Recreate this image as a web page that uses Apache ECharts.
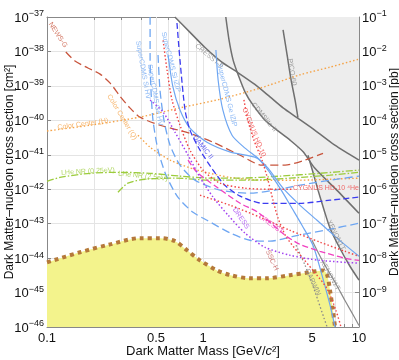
<!DOCTYPE html>
<html><head><meta charset="utf-8">
<script src="https://cdn.jsdelivr.net/npm/echarts@6/dist/echarts.min.js"></script>
<style>html,body{margin:0;padding:0;background:#fff}#c{width:399px;height:360px}</style>
</head><body><div id="c"></div>
<script>
// ---- tick values ----
const xTickLabels = [0.1, 0.5, 1, 5, 10];
const xTicks = [0.1,0.2,0.3,0.4,0.5,0.6,0.7,0.8,0.9,1,2,3,4,5,6,7,8,9,10];
const xExtraGrid = [0.5, 5];

// ---- curves: [mass GeV, cross section cm^2] ----
const cresstII = [[0.66,1e-37],[0.82,3.7e-38],[1.03,1.3e-38],[1.32,4.9e-39],[1.68,2.4e-39],[2.15,1.1e-39],[2.7,4.7e-40],[3.26,2.3e-40],[4.0,1.2e-40],[5.2,5.2e-41],[7.0,1.9e-41],[10,7e-42]];
const cdmsLiteII = [[1.4,1e-37],[1.47,2.1e-38],[1.56,5.6e-39],[1.68,2.1e-39],[1.86,6.6e-40],[2.09,2.8e-40],[2.5,1.0e-40],[2.98,5.2e-41],[3.6,2.7e-41],[4.4,1.2e-41],[5.2,4.1e-42],[7.2,9.4e-43],[10,2.0e-43]];
const pico60 = [[3.26,4.2e-38],[3.46,7.9e-39],[3.67,1.5e-39],[3.89,3.9e-40],[4.06,1.2e-40]];
const xenon1tA = [[4.71,9.7e-42],[5.07,3.1e-42],[5.46,9.4e-43],[5.97,2.5e-43],[6.52,7.4e-44],[7.55,1.9e-44],[8.75,5.8e-45],[10,2.3e-45]];
const xenon1tB = [[5.0,3.3e-44],[5.46,1.48e-44],[6.05,6.2e-45],[7.02,2.0e-45],[8.13,5.9e-46],[9.43,1.8e-46],[10,1.1e-46]];
const darwin = [[3.95,2.35e-44],[4.51,6.2e-45],[5.0,1.85e-45],[5.46,5.9e-46],[5.97,1.8e-46],[6.23,1.04e-46]];
const excludedEdge = [[0.66,1e-37],[0.82,3.7e-38],[1.03,1.3e-38],[1.32,4.9e-39],[1.68,2.2e-39],[1.86,6.6e-40],[2.09,2.8e-40],[2.5,1.0e-40],[2.98,5.2e-41],[3.6,2.7e-41],[4.4,1.2e-41],[4.71,9.7e-42],[5.07,3.1e-42],[5.46,9.4e-43],[5.97,2.5e-43],[6.52,7.4e-44],[7.55,1.9e-44],[8.75,5.8e-45],[10,2.3e-45]];
const newsG = [[0.132,9.6e-39],[0.151,5.3e-39],[0.183,3.3e-39],[0.219,2.2e-39],[0.254,1.2e-39],[0.294,5.0e-40],[0.34,2.3e-40],[0.394,1.24e-40],[0.53,7.2e-41],[0.825,4.2e-41],[1.19,2.2e-41],[1.73,9.7e-42],[2.39,5.0e-42],[3.36,5.0e-42],[4.51,7.0e-42],[5.88,1.1e-41]];
const colorCenterH = [[0.1,4.9e-41],[0.189,7.2e-41],[0.394,1.24e-40],[0.712,2.3e-40],[1.285,4.1e-40],[2.32,8.6e-40],[4.19,2.1e-39],[6.52,3.5e-39],[10,6e-39]];
const colorCenterQ = [[0.383,3.7e-41],[0.458,1.66e-41],[0.615,7.0e-42],[0.915,3.6e-42],[1.5,2.2e-42],[2.42,1.83e-42],[4.19,1.83e-42],[6.52,1.95e-42],[10,2.1e-42]];
const cygnusHe = [[0.555,2.1e-38],[0.588,2.9e-39],[0.633,3.9e-40],[0.712,7.2e-41],[0.825,1.36e-41],[1.0,3.6e-42],[1.285,1.5e-42],[1.86,1.07e-42],[2.69,1e-42],[3.78,1e-42]];
const cygnusSteep = [[1.83,3.9e-40],[1.94,1.0e-40],[2.12,2.65e-41],[2.39,7.0e-42],[2.61,1.83e-42],[2.81,4.8e-43],[3.03,1.44e-43],[3.4,4.3e-44],[4.06,1.48e-44],[5.07,4.4e-45],[6.23,1.32e-45],[7.12,3.0e-46],[7.67,1e-46]];
const redLow = [[0.957,6.7e-43],[1.5,3.4e-43],[2.32,1.54e-43],[3.61,6.4e-44],[5.62,2.9e-44],[8.13,1.58e-44],[10,1.13e-44]];
const cresstPink = [[0.802,7.0e-42],[0.915,3.1e-42],[1.23,1.14e-42],[1.73,3.9e-43],[2.25,2.14e-43],[3.36,4.6e-44],[4.19,2.5e-44],[5.62,1.58e-44],[8.13,9.9e-45],[10,8.6e-45]];
const purpleDot = [[0.458,3.9e-40],[0.555,1.73e-40],[0.662,4.5e-41],[0.802,9.7e-42],[0.957,2.2e-42],[1.16,5.9e-43],[1.45,1.75e-43],[1.86,5.3e-44],[2.5,2.06e-44],[3.61,1.21e-44],[5.62,8.6e-45],[10,7.1e-45]];
const damic = [[0.681,6.7e-38],[0.712,5.6e-39],[0.767,2.0e-40],[0.825,5.2e-41],[0.957,1.36e-41],[1.16,3.6e-42],[1.38,1.31e-42],[1.73,6.3e-43],[2.42,3.9e-43],[4.19,3.9e-43],[6.52,4.8e-43],[10,5.9e-43]];
const siHV = [[0.458,1e-37],[0.458,5.6e-39],[0.464,7.6e-40],[0.478,1.01e-40],[0.515,1.36e-41],[0.58,2.55e-42],[0.69,5.9e-43],[0.863,2.14e-43],[1.06,1.26e-43],[1.5,5.3e-44],[2.0,3.3e-44],[2.69,3.1e-44],[3.78,4.3e-44],[6.52,6.9e-44],[10,1.03e-43]];
const geHV = [[0.515,7.9e-39],[0.53,7.6e-40],[0.562,1.01e-40],[0.615,1.9e-41],[0.712,5.0e-42],[0.888,1.83e-42],[1.285,9.4e-43],[2.0,7.7e-43],[2.89,9.4e-43],[4.19,1.31e-42],[6.52,1.83e-42],[10,2.4e-42]];
const siIZIP = [[0.597,7.9e-39],[0.642,9.2e-40],[0.712,2.0e-40],[0.825,5.9e-41],[1.06,2.3e-41],[1.5,1.19e-41],[2.22,8.0e-42],[2.61,3.6e-42],[2.94,1.6e-42],[3.26,7.7e-43],[3.72,2.8e-43],[4.31,9.0e-44],[5.07,2.35e-44],[5.79,3.2e-45],[6.52,4.3e-46],[7.02,1e-46]];
const geIZIP = [[1.21,1.1e-38],[1.25,1.48e-39],[1.34,2.0e-40],[1.535,3.7e-41],[1.86,1.56e-41],[2.25,8.0e-42],[2.61,4.1e-42],[3.26,1.07e-42],[4.19,3.4e-43],[5.38,1.26e-43],[7.23,3.8e-44],[10,1.13e-44]];
const lhe025 = [[0.1,1.7e-42],[0.121,2.2e-42],[0.189,2.9e-42],[0.294,3.1e-42],[0.458,2.9e-42],[0.712,2.4e-42],[1.11,2.1e-42],[1.73,2.1e-42],[3.12,2.4e-42],[5.62,2.9e-42],[10,3.6e-42]];
const lhe25 = [[0.285,8.2e-43],[0.33,1.5e-42],[0.425,1.95e-42],[0.662,2.1e-42],[1.11,1.83e-42],[2.0,1.83e-42],[3.61,2.1e-42],[6.52,2.55e-42],[10,3.1e-42]];
const neutrinoFloor = [[0.1,7.5e-45],[0.163,1.48e-44],[0.254,2.5e-44],[0.394,3.8e-44],[0.53,3.8e-44],[0.662,3.1e-44],[0.79,1.69e-44],[0.957,8.6e-45],[1.23,4.4e-45],[1.5,3.2e-45],[2.0,2.6e-45],[2.57,2.6e-45],[3.61,3.2e-45],[4.85,3.9e-45],[5.88,4.4e-45],[6.23,3.4e-45],[6.52,1.16e-45],[6.81,3.0e-46],[7.02,1e-46]];

// ---- curve labels ----
const labelTexts = ['NEWS-G','Color Center (H)','Color Center (Q)','LHe NR (0.25eV)','LHe NR (2.5eV)','SuperCDMS Si HV','SuperCDMS Ge HV','SuperCDMS Si iZIP','SuperCDMS Ge iZIP','CRESST-II','CDMSlite II','PICO-60','CYGNUS HD-10 \u2074He','CYGNUS HD-10','DAMIC II','CRESST','DRESS','SSC-H','XENON1T','XENON1T','DARWIN'];
const labelAt = [[0.1176,3.0e-38],[0.17,7.8e-41],[0.303,1.24e-40],[0.183,3.3e-42],[0.413,2.4e-42],[0.413,2.9e-39],[0.493,5.4e-40],[0.623,4.9e-39],[1.425,5.4e-40],[1.093,7.35e-39],[2.46,1.24e-40],[3.72,2.5e-39],[6.14,1.07e-42],[2.12,4.5e-41],[1.0,1.66e-41],[2.73,9.6e-44],[1.75,1.44e-43],[2.77,8.6e-45],[7.12,4.6e-44],[6.52,3.16e-45],[5.07,1.98e-45]];

// cross sections are plotted in units of 1e-46 cm^2 (keeps the log scale within float rounding range)
const UNIT = 1e-46, UNIT_EXP = -46;
const toUnits = d => d.map(([m, s]) => [m, s / UNIT]);

const C = {gray:'#6f6f6f', news:'#c8553d', orange:'#f5a347', green:'#9ccc3c', lblue:'#6ea6f2', dblue:'#3c3cf0', red:'#f04545', pink:'#f040c0', purple:'#a040f0', brown:'#c0504d'};
const labelRot = [-57,8,-59,3,-6,-80,-80,-76,-76,-40,-50,-80,0,-68,-52,-35,-55,-65,-63,-60,-65];
const labelCol = [C.news,C.orange,C.orange,C.green,C.green,C.lblue,C.lblue,C.lblue,C.lblue,'#888','#888','#888',C.red,C.red,C.dblue,C.pink,C.purple,C.brown,'#888','#888','#888'];

const DASH=[8,4], DASH2=[6,3], DOT=[1.5,2.2], DASHDOT=[7,2,1.5,2];
function ln(data, color, type, width){
  return {type:'line', data: toUnits(data), symbol:'none', smooth:0.25, silent:true,
    lineStyle:{color, type, width: width||1.2}, z:4};
}
const FONT = '"Liberation Sans", Arial, sans-serif';
function powText(e){ return '{b|10}{s|' + (e<0?'\u2212':'') + Math.abs(e) + '}'; }
const rich = {b:{fontSize:13, color:'#111', fontFamily:FONT, verticalAlign:'bottom'},
              s:{fontSize:9, color:'#111', fontFamily:FONT, verticalAlign:'top', padding:[0,0,6,0]}};

const series = [
  {type:'line', data:toUnits(excludedEdge), symbol:'none', smooth:0.25, silent:true, lineStyle:{width:0},
   areaStyle:{color:'#ededed', origin:'end', opacity:1}, z:1,
   markLine:{silent:true, z:1, symbol:'none', label:{show:false}, lineStyle:{color:'#e4e4e4', type:'solid', width:1},
     data: xExtraGrid.map(v=>({xAxis:v}))}},
  {type:'line', data:toUnits(neutrinoFloor), symbol:'none', smooth:0.3, silent:true,
   lineStyle:{color:'#b5793a', width:4, type:[4,4]}, areaStyle:{color:'#f3f38c', origin:'start', opacity:1}, z:3},
  ln(cresstII, C.gray, 'solid', 1.5),
  ln(cdmsLiteII, C.gray, 'solid', 1.5),
  ln(pico60, C.gray, 'solid', 1.5),
  ln(xenon1tA, C.gray, 'solid', 1.5),
  ln(xenon1tB, '#8a8a8a', 'solid', 1.2),
  ln(darwin, '#8a8a8a', DOT, 1.3),
  ln(newsG, C.news, DASH, 1.3),
  ln(colorCenterH, C.orange, DOT, 1.4),
  ln(colorCenterQ, C.orange, DOT, 1.4),
  ln(lhe025, C.green, DASHDOT, 1.3),
  ln(lhe25, C.green, DASHDOT, 1.3),
  ln(siHV, C.lblue, DASH, 1.3),
  ln(geHV, C.lblue, DASH, 1.3),
  ln(siIZIP, C.lblue, 'solid', 1.2),
  ln(geIZIP, C.lblue, 'solid', 1.2),
  ln(damic, C.dblue, DASH2, 1.3),
  ln(cygnusHe, C.red, DOT, 1.4),
  ln(cygnusSteep, C.red, DOT, 1.4),
  ln(redLow, C.red, DOT, 1.4),
  ln(cresstPink, C.pink, DASH2, 1.3),
  ln(purpleDot, C.purple, DOT, 1.5),
  {type:'scatter', symbolSize:0, silent:true, z:5,
   data: labelTexts.map((t,i)=>({value:[labelAt[i][0], labelAt[i][1]/UNIT], name:t,
     label:{show:true, position:'inside', rotate:labelRot[i], color:labelCol[i], formatter:t,
       fontSize:7, fontFamily:FONT, align:'center', verticalAlign:'middle'}}))}
];

const nameStyle = {fontSize:12, color:'#111', fontFamily:FONT};
const chart = echarts.init(document.getElementById('c'), null, {renderer:'canvas'});
chart.setOption({
  animation:false,
  backgroundColor:'#fff',
  grid:{left:47, right:40, top:17, bottom:33, containLabel:false, outerBoundsMode:'none'},
  xAxis:[
    {type:'log', logBase:10, min:0.1, max:10, position:'bottom',
     axisLine:{show:true, lineStyle:{color:'#888'}},
     axisTick:{show:true, inside:true, length:3, customValues:xTicks, lineStyle:{color:'#888'}},
     axisLabel:{customValues:xTickLabels, color:'#111', fontSize:13, fontFamily:FONT, margin:5,
       formatter:v=>String(+(+v).toPrecision(3))},
     splitLine:{show:true, lineStyle:{color:'#e4e4e4'}},
     name:'{n|Dark Matter Mass [GeV/}{i|c}{n|\u00b2]}', nameLocation:'middle', nameGap:18, nameMoveOverlap:false,
     nameTextStyle:{rich:{n:{fontSize:13, color:'#111', fontFamily:FONT}, i:{fontSize:13, color:'#111', fontFamily:FONT, fontStyle:'italic'}}}},
    {type:'log', logBase:10, min:0.1, max:10, position:'top',
     axisLine:{show:true, lineStyle:{color:'#888'}},
     axisTick:{show:true, inside:true, length:3, customValues:xTicks, lineStyle:{color:'#888'}},
     axisLabel:{show:false}, splitLine:{show:false}}
  ],
  yAxis:[
    {type:'log', logBase:10, min:1, max:1e9, splitNumber:10, position:'left',
     axisLine:{show:true, lineStyle:{color:'#888'}},
     axisTick:{show:true, inside:true, length:4, lineStyle:{color:'#888'}},
     axisLabel:{formatter:v=>powText(Math.round(Math.log10(v)) + UNIT_EXP), rich, margin:3},
     splitLine:{show:true, lineStyle:{color:'#e4e4e4'}},
     name:'Dark Matter\u2013nucleon cross section [cm\u00b2]', nameLocation:'middle', nameGap:31, nameRotate:90, nameMoveOverlap:false,
     nameTextStyle:nameStyle},
    {type:'log', logBase:10, min:1e-10, max:1e-1, splitNumber:10, position:'right',
     axisLine:{show:true, lineStyle:{color:'#888'}},
     axisTick:{show:true, inside:true, length:4, lineStyle:{color:'#888'}},
     axisLabel:{formatter:v=>{const e=Math.round(Math.log10(v)); return e<=-10?'':powText(e);}, rich, margin:3},
     splitLine:{show:false},
     name:'Dark Matter\u2013nucleon cross section [pb]', nameLocation:'middle', nameGap:30, nameRotate:90, nameMoveOverlap:false,
     nameTextStyle:nameStyle}
  ],
  series
});
</script></body></html>
